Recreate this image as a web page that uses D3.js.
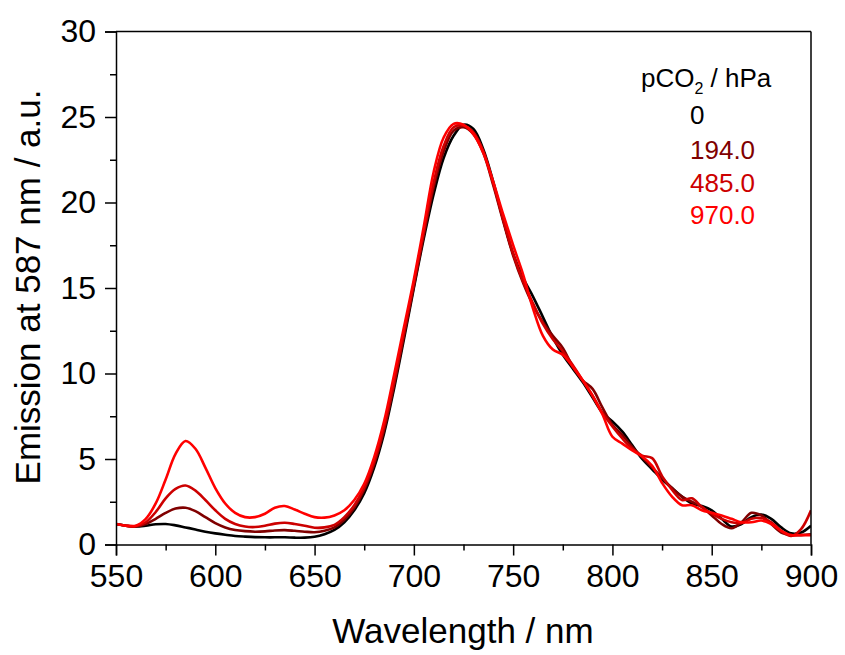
<!DOCTYPE html>
<html>
<head>
<meta charset="utf-8">
<script src="https://cdn.jsdelivr.net/npm/d3@7"></script>
<style>
  body { margin: 0; background: #fff; }
  text { font-family: "Liberation Sans", Arial, sans-serif; fill: #000; }
</style>
</head>
<body>
<script>
// wavelengths 550..900 nm, 5 nm step
var wavelengths = [550,555,560,565,570,575,580,585,590,595,600,605,610,615,620,625,630,635,640,645,650,655,660,665,670,675,680,685,690,695,700,705,710,715,720,725,730,735,740,745,750,755,760,765,770,775,780,785,790,795,800,805,810,815,820,825,830,835,840,845,850,855,860,865,870,875,880,885,890,895,900];

var pco2Labels = ["0", "194.0", "485.0", "970.0"];
var lineColors = ["#000000", "#800000", "#cc0000", "#ff0000"];

var em0 = [1.2,1.1,1.05,1.1,1.18,1.2,1.12,1.0,0.88,0.75,0.65,0.57,0.5,0.46,0.43,0.42,0.42,0.42,0.4,0.4,0.45,0.6,0.85,1.3,2.0,3.0,4.5,6.5,9.1,12.0,15.0,17.9,20.5,22.6,23.9,24.55,24.3,23.1,21.2,19.0,17.0,15.6,14.5,13.3,12.1,11.1,10.3,9.5,8.6,7.7,7.2,6.6,5.8,5.0,4.4,3.8,3.3,2.8,2.4,2.25,2.0,1.5,1.05,1.2,1.6,1.75,1.5,1.0,0.65,0.7,1.1];
var em194 = [1.2,1.1,1.05,1.2,1.5,1.85,2.1,2.15,1.95,1.6,1.25,1.0,0.85,0.78,0.75,0.77,0.82,0.84,0.8,0.75,0.72,0.8,1.0,1.45,2.15,3.2,4.7,6.7,9.3,12.2,15.1,18.1,20.9,23.0,24.2,24.4,24.0,22.9,21.0,18.9,16.9,15.3,14.0,13.0,12.2,11.5,10.4,9.6,9.1,8.0,7.0,6.4,5.7,5.1,4.5,3.9,3.3,2.8,2.5,2.2,1.7,1.2,0.95,1.3,1.85,1.7,1.2,0.7,0.55,0.55,0.6];
var em485 = [1.2,1.1,1.08,1.3,1.9,2.7,3.25,3.45,3.15,2.6,2.0,1.5,1.2,1.05,1.02,1.1,1.22,1.27,1.2,1.1,0.98,1.0,1.15,1.6,2.3,3.35,4.85,6.9,9.5,12.4,15.3,18.3,21.2,23.3,24.4,24.5,24.1,23.0,21.1,19.0,17.0,15.4,14.1,12.9,12.0,11.3,10.5,9.6,8.7,7.7,6.9,6.2,5.6,5.2,5.05,4.0,3.2,2.6,2.7,2.2,1.8,1.5,1.3,1.25,1.5,1.55,1.3,0.8,0.5,0.9,2.0];
var em970 = [1.2,1.1,1.1,1.5,2.4,3.8,5.3,6.05,5.6,4.5,3.3,2.4,1.85,1.6,1.6,1.8,2.15,2.25,2.05,1.8,1.6,1.57,1.7,2.0,2.6,3.55,5.1,7.2,9.9,12.7,15.5,18.6,21.8,23.8,24.6,24.55,24.0,22.9,21.2,19.3,17.5,15.8,13.8,12.2,11.4,11.1,10.4,9.6,8.7,7.6,6.3,5.9,5.5,5.15,4.6,3.6,2.8,2.3,2.3,2.0,1.85,1.7,1.5,1.3,1.3,1.4,1.2,0.8,0.55,0.55,0.55];

var series = [em0, em194, em485, em970];

var xTicks = [550,600,650,700,750,800,850,900];
var yTicks = [0,5,10,15,20,25,30];

function drawChart(){
    var width = 845, height = 655;
    var pLeft = 116, pRight = 811, pTop = 31.5, pBottom = 544.5;

    var svg = d3.select("body").append("svg")
        .attr("width", width)
        .attr("height", height);

    var x = d3.scaleLinear().domain([550, 900]).range([pLeft, pRight]);
    var y = d3.scaleLinear().domain([0, 30]).range([pBottom, pTop]);

    svg.append("defs").append("clipPath").attr("id", "clip")
      .append("rect")
        .attr("x", pLeft).attr("y", pTop)
        .attr("width", pRight - pLeft).attr("height", pBottom - pTop);

    var line = d3.line()
        .x(function(d, i){ return x(wavelengths[i]); })
        .y(function(d){ return y(d); })
        .curve(d3.curveCatmullRom.alpha(0.5));

    svg.append("g").attr("clip-path", "url(#clip)")
      .selectAll("path")
      .data(series)
      .enter()
      .append("path")
        .attr("d", line)
        .attr("fill", "none")
        .attr("stroke", function(d, i){ return lineColors[i]; })
        .attr("stroke-width", 2.6)
        .attr("stroke-linejoin", "round");

    // minor ticks (outside, shorter)
    var xMinor = d3.range(575, 900, 50);
    svg.append("g")
        .attr("transform", "translate(0," + pBottom + ")")
        .call(d3.axisBottom(x).tickValues(xMinor).tickSize(6).tickFormat(""))
        .call(function(g){ g.select(".domain").remove(); });

    var yMinor = d3.range(2.5, 30, 5);
    svg.append("g")
        .attr("transform", "translate(" + pLeft + ",0)")
        .call(d3.axisLeft(y).tickValues(yMinor).tickSize(6).tickFormat(""))
        .call(function(g){ g.select(".domain").remove(); });

    var xAxis = svg.append("g")
        .attr("transform", "translate(0," + pBottom + ")")
        .call(d3.axisBottom(x).tickValues(xTicks).tickSizeOuter(0).tickSize(11).tickPadding(9));
    xAxis.selectAll("text").style("font-size", "32px").attr("fill", "#000");

    var yAxis = svg.append("g")
        .attr("transform", "translate(" + pLeft + ",0)")
        .call(d3.axisLeft(y).tickValues(yTicks).tickSizeOuter(0).tickSize(11).tickPadding(9));
    yAxis.selectAll("text").style("font-size", "32px").attr("fill", "#000");

    svg.selectAll(".domain, .tick line").attr("stroke", "#000").attr("stroke-width", 1.5);

    // frame top and right
    svg.append("line").attr("x1", pLeft).attr("x2", pRight).attr("y1", pTop).attr("y2", pTop)
        .attr("stroke", "#000").attr("stroke-width", 1.5);
    svg.append("line").attr("x1", pRight).attr("x2", pRight).attr("y1", pTop).attr("y2", pBottom)
        .attr("stroke", "#000").attr("stroke-width", 1.5);

    // axis titles
    svg.append("text")
        .attr("x", 463)
        .attr("y", 643)
        .attr("text-anchor", "middle")
        .style("font-size", "35px")
        .text("Wavelength / nm");

    svg.append("text")
        .attr("transform", "translate(40,287) rotate(-90)")
        .attr("text-anchor", "middle")
        .style("font-size", "35px")
        .text("Emission at 587 nm / a.u.");

    // legend
    var leg = svg.append("text")
        .attr("x", 641)
        .attr("y", 87)
        .style("font-size", "26px");
    leg.append("tspan").text("pCO");
    leg.append("tspan").attr("dy", 7).style("font-size", "16px").text("2");
    leg.append("tspan").attr("dy", -7).text(" / hPa");

    var legY = [124, 159, 191.5, 223.5];
    svg.selectAll(".leg")
      .data(pco2Labels)
      .enter()
      .append("text")
        .attr("class", "leg")
        .attr("x", 690)
        .attr("y", function(d, i){ return legY[i]; })
        .style("font-size", "26px")
        .style("fill", function(d, i){ return lineColors[i]; })
        .text(function(d){ return d; });
}

drawChart();
</script>
</body>
</html>
